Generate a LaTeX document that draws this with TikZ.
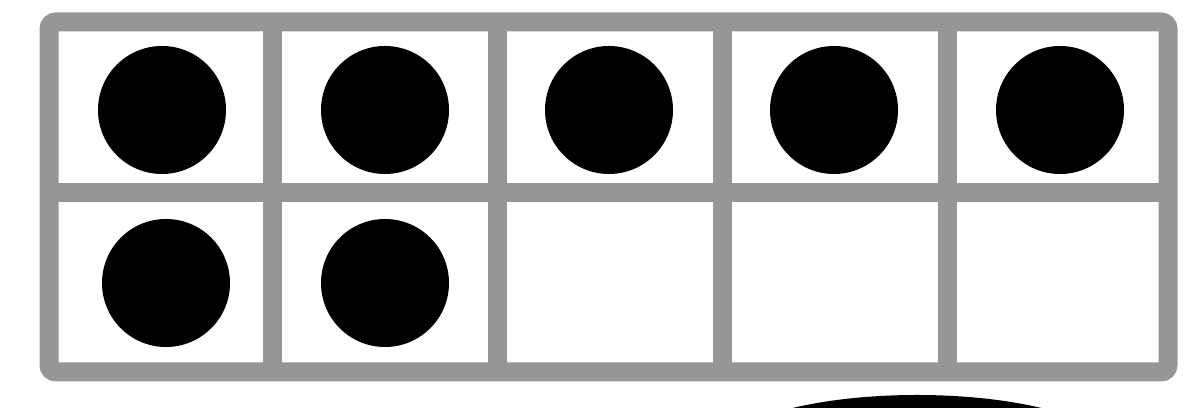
\documentclass[tikz,border=0pt]{standalone}
\usepackage{tikz}
\usepackage{xcolor}

\begin{document}
\begin{tikzpicture}[gridline/.style={draw=framegray, line width=0.19cm}, counter/.style={fill=black}]
		% Define colors
		\definecolor{framegray}{RGB}{150, 150, 150}
		
		% canvas
		\useasboundingbox (0, 0) rectangle (11.9, 4.08);
		\clip (0, 0) rectangle (11.9, 4.08);
		
		% TEN FRAME: outer border
		\draw[gridline, rounded corners=2pt] (0.49, 0.36) rectangle (11.68, 3.86);
		
		% middle line
		\draw[gridline] (0.49, 2.15) -- (11.68, 2.15);
		
		% column lines
		\draw[gridline] (2.72, 0.36) -- (2.72, 3.86);
		\draw[gridline] (4.97, 0.36) -- (4.97, 3.86);
		\draw[gridline] (7.22, 0.36) -- (7.22, 3.86);
		\draw[gridline] (9.47, 0.36) -- (9.47, 3.86);
		
		% TOP ROW: five counters
		\fill[counter] (1.62, 2.98) circle (0.64);
		\fill[counter] (3.85, 2.98) circle (0.64);
		\fill[counter] (6.09, 2.98) circle (0.64);
		\fill[counter] (8.34, 2.98) circle (0.64);
		\fill[counter] (10.60, 2.98) circle (0.64);
		
		% BOTTOM ROW: two counters
		\fill[counter] (1.66, 1.25) circle (0.64);
		\fill[counter] (3.85, 1.25) circle (0.64);
		
		% shape cut off below the frame
		\fill[black] (9.17, -0.47) ellipse (2.0 and 0.6);
		
	\end{tikzpicture}
\end{document}
